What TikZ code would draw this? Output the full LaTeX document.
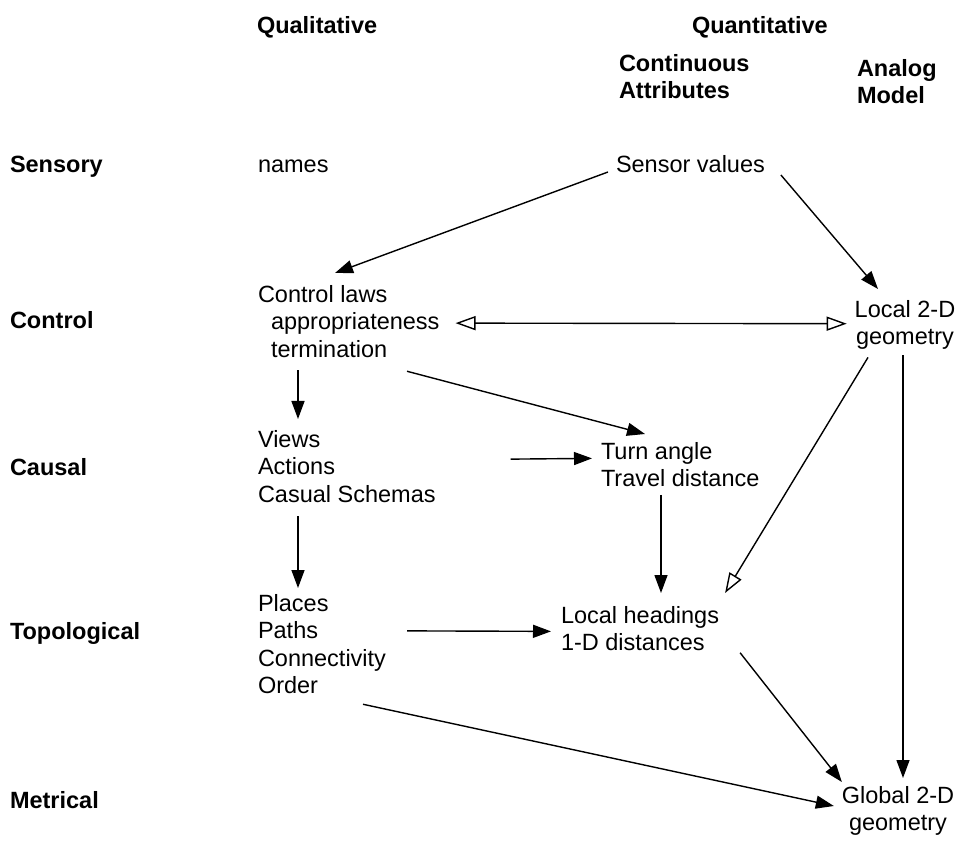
\documentclass[tikz,border=0pt]{standalone}
\usepackage{fontspec}
\setmainfont{Liberation Sans}
\usetikzlibrary{arrows.meta,calc}
\begin{document}
\begin{tikzpicture}[x=1pt,y=-1pt,
  every node/.style={inner sep=0pt,outer sep=0pt,font=\fontsize{23.5}{27.5}\selectfont},
  hdr/.style={anchor=base west,font=\fontsize{23.5}{27.5}\selectfont\bfseries},
  hdrblk/.style={anchor=north west,align=left,font=\fontsize{23.5}{27.5}\selectfont\bfseries},
  txt/.style={anchor=base west},
  blk/.style={anchor=north west,align=left},
  cblk/.style={anchor=north,align=center},
  link/.style={line width=1.4pt,-{Triangle[length=18pt,width=13pt]}},
  both/.style={line width=1.4pt,{Triangle[open,length=20pt,width=14pt]}-{Triangle[open,length=20pt,width=14pt]}},
  hollow/.style={line width=1.4pt,-{Triangle[open,length=20pt,width=14pt]}}]
\useasboundingbox (0,0) rectangle (959,842);

% column headings
\node[hdr] (qual) at (257,34) {Qualitative};
\node[hdr] (quan) at (692,34) {Quantitative};
\node[hdrblk] (cont) at (619,54) {Continuous\\Attributes};
\node[hdrblk] (anlg) at (857,59) {Analog\\Model};

% row headings
\node[hdr] (sens) at (10,173) {Sensory};
\node[hdr] (ctrl) at (10,329) {Control};
\node[hdr] (caus) at (10,475) {Causal};
\node[hdr] (topo) at (10,639) {Topological};
\node[hdr] (metr) at (10,808) {Metrical};

% entries
\node[txt] (nm) at (258,173) {names};
\node[txt] (sv) at (616,173) {Sensor values};
\node[blk] (cl) at (258,285) {Control laws\\\hspace*{13pt}appropriateness\\\hspace*{13pt}termination};
\node[cblk] (lg) at (905,300) {Local 2-D\\geometry};
\node[blk] (va) at (258,430) {Views\\Actions\\Casual Schemas};
\node[blk] (tt) at (601,442) {Turn angle\\Travel distance};
\node[blk] (pl) at (258,594) {Places\\Paths\\Connectivity\\Order};
\node[blk] (lh) at (561,606) {Local headings\\1-D distances};
\node[cblk] (gg) at (898,786) {Global 2-D\\geometry};

% connectors
\draw[link] ($(sv.base west)+(-8,-1)$) -- ($(cl.north west)+(77,-12)$);
\draw[link] ($(sv.base east)+(16,2)$) -- ($(lg.north)+(-27,-11)$);
\draw[both] ($(cl.east)+(16,2)$) -- ($(lg.west)+(-8,-1)$);
\draw[link] ($(cl.south west)+(40,13)$) -- ($(va.north west)+(40,-11)$);
\draw[link] ($(cl.south west)+(149,14)$) -- ($(tt.north west)+(44,-8)$);
\draw[link] ($(va.east)+(75,-7)$) -- ($(tt.west)+(-9,-6)$);
\draw[link] ($(va.south west)+(40,14)$) -- ($(pl.north west)+(40,-6)$);
\draw[link] ($(tt.south west)+(60,8)$) -- ($(lh.north west)+(100,-13)$);
\draw[hollow] ($(lg.south)+(-37,8)$) -- ($(lh.north east)+(6,-13)$);
\draw[link] ($(lg.south)+(-2,6)$) -- ($(gg.north)+(5,-8)$);
\draw[link] ($(pl.east)+(21,-13)$) -- ($(lh.west)+(-10,3)$);
\draw[link] ($(lh.south east)+(21,2)$) -- ($(gg.north west)+(0,-4)$);
\draw[link] ($(pl.south west)+(105,10.5)$) -- ($(gg.north west)+(-8,20)$);
\end{tikzpicture}
\end{document}
